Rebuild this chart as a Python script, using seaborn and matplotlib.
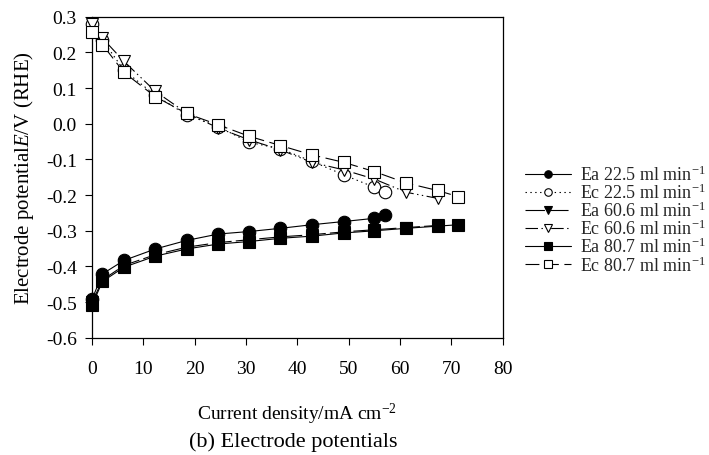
import matplotlib
matplotlib.use("Agg")
import matplotlib.pyplot as plt
import seaborn as sns
import pandas as pd

sns.set_theme(style="white")
plt.rcParams["font.family"] = ["Liberation Serif", "DejaVu Serif"]
plt.rcParams["mathtext.fontset"] = "custom"
plt.rcParams["mathtext.rm"] = "Liberation Serif"
plt.rcParams["mathtext.it"] = "Liberation Serif:italic"
plt.rcParams["axes.unicode_minus"] = False
plt.rcParams["lines.scale_dashes"] = False

# Current density (mA cm^-2) at each measurement point
x_all = [0, 2, 6.2, 12.3, 18.4, 24.6, 30.6, 36.7, 42.8, 49, 55, 61.2, 67.3, 71.3]
x_22 = x_all[:11] + [57]
x_60 = x_all[:13]
x_80 = x_all

# Anode (Ea) and cathode (Ec) potentials, V vs RHE
ea_22 = [-0.491, -0.421, -0.383, -0.351, -0.327, -0.309, -0.302, -0.293, -0.283, -0.274, -0.265, -0.255]
ec_22 = [0.280, 0.235, 0.150, 0.080, 0.025, -0.008, -0.052, -0.070, -0.105, -0.143, -0.178, -0.192]
ea_60 = [-0.500, -0.438, -0.397, -0.367, -0.346, -0.333, -0.325, -0.317, -0.311, -0.303, -0.297, -0.291, -0.285]
ec_60 = [0.280, 0.240, 0.175, 0.091, 0.030, -0.012, -0.045, -0.073, -0.108, -0.129, -0.155, -0.192, -0.209]
ea_80 = [-0.508, -0.442, -0.402, -0.371, -0.351, -0.337, -0.330, -0.321, -0.315, -0.306, -0.300, -0.293, -0.287, -0.283]
ec_80 = [0.256, 0.222, 0.144, 0.076, 0.029, -0.003, -0.035, -0.061, -0.087, -0.108, -0.134, -0.166, -0.187, -0.204]

labels = [
    "Ea 22.5 ml min$^{-1}$", "Ec 22.5 ml min$^{-1}$",
    "Ea 60.6 ml min$^{-1}$", "Ec 60.6 ml min$^{-1}$",
    "Ea 80.7 ml min$^{-1}$", "Ec 80.7 ml min$^{-1}$",
]
xticks = [0, 10, 20, 30, 40, 50, 60, 70, 80]
yticks = [0.3, 0.2, 0.1, 0.0, -0.1, -0.2, -0.3, -0.4, -0.5, -0.6]

series = [
    (x_22, ea_22, "o", "black", "-"),
    (x_22, ec_22, "o", "white", (0, (1, 2.5))),
    (x_60, ea_60, "v", "black", (0, (14, 3))),
    (x_60, ec_60, "v", "white", (0, (9, 2.5, 1, 2.5, 1, 2.5))),
    (x_80, ea_80, "s", "black", "-"),
    (x_80, ec_80, "s", "white", (0, (10, 4))),
]

fig = plt.figure(figsize=(7.09, 4.56), dpi=100)
ax = fig.add_axes([0.130, 0.257, 0.579, 0.704])

handles = []
for (xs, ys, mk, fc, ls), lab in zip(series, labels):
    df = pd.DataFrame({"j": xs, "E": ys})
    before = len(ax.lines)
    sns.lineplot(data=df, x="j", y="E", ax=ax, color="black", linestyle=ls,
                 linewidth=0.8, marker=mk, markersize=9 if mk != "s" else 8.5,
                 markerfacecolor=fc, markeredgecolor="black", markeredgewidth=0.8,
                 label=lab, legend=False, errorbar=None, clip_on=False, zorder=3)
    handles.append(ax.lines[before])

ax.set_xlim(0, 80)
ax.set_ylim(-0.6, 0.3)
ax.set_xticks(xticks)
ax.set_xticklabels([str(t) for t in xticks])
ax.set_yticks(yticks)
ax.set_yticklabels([f"{t:.1f}" if t != 0 else "0.0" for t in yticks])
ax.tick_params(axis="both", which="major", labelsize=14, length=5, width=0.8,
               direction="out", color="black", labelcolor="black",
               bottom=True, left=True, top=False, right=False, pad=6)
ax.tick_params(axis="x", pad=11)
for sp in ax.spines.values():
    sp.set_visible(True)
    sp.set_color("black")
    sp.set_linewidth(0.9)

ax.set_xlabel("Current density/mA cm$^{-2}$", fontsize=14, labelpad=17, color="black")
ax.set_ylabel("Electrode potential$\\mathit{E}$/V (RHE)", fontsize=15, labelpad=7, color="black")

fig.text(0.414, 0.02, "(b) Electrode potentials", fontsize=16, ha="center",
         va="baseline", color="black")

leg = fig.legend(handles=handles, labels=labels, loc="upper left",
                 bbox_to_anchor=(0.741, 0.637), frameon=False, fontsize=13,
                 handlelength=2.5, handletextpad=0.55, labelspacing=-0.07,
                 markerscale=0.6, borderaxespad=0, borderpad=0)

fig.savefig("out.png", dpi=100)
